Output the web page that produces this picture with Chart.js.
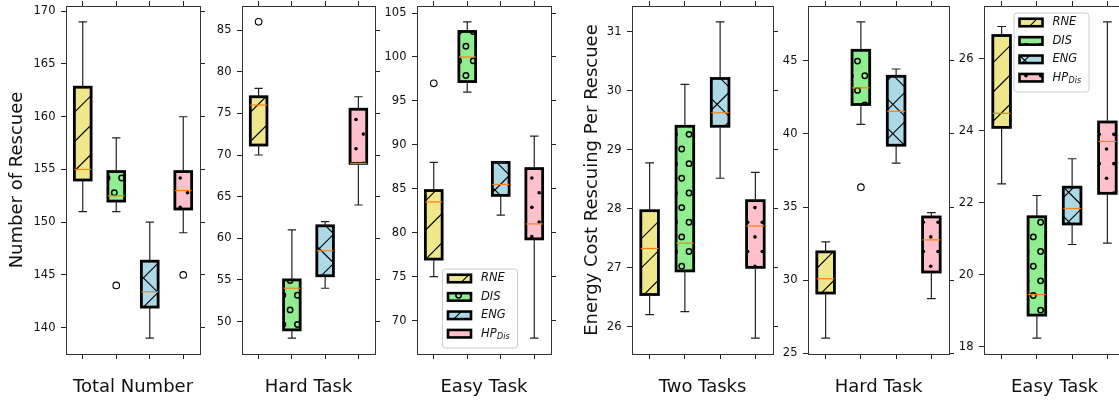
<!DOCTYPE html>
<html>
<head>
<meta charset="utf-8">
<title>Rescue box plots</title>
<script src="https://cdn.jsdelivr.net/npm/chart.js@4.4.0/dist/chart.umd.min.js"></script>
<style>
  html, body { margin: 0; padding: 0; background: #fff; }
  #wrap { position: relative; width: 1119px; height: 404px; overflow: hidden; background: #fff; }
  #wrap canvas { position: absolute; top: 0; }
</style>
</head>
<body>
<div id="wrap">
  <canvas id="c1"></canvas>
  <canvas id="c2"></canvas>
  <canvas id="c3"></canvas>
  <canvas id="c4"></canvas>
  <canvas id="c5"></canvas>
  <canvas id="c6"></canvas>
</div>
<script>
// Methods, in plotting order
const methods = ['RNE', 'DIS', 'ENG', 'HP_Dis'];

// Each box: [lower whisker, Q1, median, Q3, upper whisker]
const totalBoxes = [[151, 154, 155, 162.8, 169], [151, 152, 152.5, 154.8, 158], [139, 141.95, 143.4, 146.3, 150], [149, 151.25, 153, 154.8, 160]];
const totalOutliers = [null, 144, null, 145];
const totalTicks = [140, 145, 150, 155, 160, 165, 170];

const hardBoxes = [[70, 71.2, 76, 77, 78], [48, 49, 54, 55, 61], [54, 55.5, 58.5, 61.5, 62], [64, 69, 69, 75.5, 77]];
const hardOutliers = [86, null, null, null];
const hardTicks = [50, 55, 60, 65, 70, 75, 80, 85];

const easyBoxes = [[75, 77, 83.5, 84.8, 88], [96, 97.2, 100, 102.9, 104], [82, 84.25, 85.5, 88, 88], [68, 79.3, 81, 87.3, 91]];
const easyOutliers = [97, null, null, null];
const easyTicks = [70, 75, 80, 85, 90, 95, 100, 105];

const energyTwoBoxes = [[26.21, 26.55, 27.33, 27.97, 28.78], [26.26, 26.95, 27.42, 29.4, 30.11], [28.52, 29.4, 29.63, 30.21, 31.17], [25.81, 27.01, 27.71, 28.14, 28.62]];
const energyTwoOutliers = [null, null, null, null];
const energyTwoTicks = [26, 27, 28, 29, 30, 31];

const energyHardBoxes = [[26.02, 29.11, 30.09, 31.93, 32.61], [40.66, 42.02, 43.16, 45.73, 47.68], [38.0, 39.23, 41.55, 43.95, 44.45], [28.73, 30.55, 32.75, 34.32, 34.61]];
const energyHardOutliers = [null, 36.36, null, null];
const energyHardTicks = [25, 30, 35, 40, 45];

const energyEasyBoxes = [[22.52, 24.09, 24.48, 26.64, 26.89], [18.24, 18.88, 19.45, 21.61, 22.2], [20.84, 21.41, 21.84, 22.43, 23.22], [20.88, 22.26, 23.7, 24.24, 27.02]];
const energyEasyOutliers = [null, null, null, null];
const energyEasyTicks = [18, 20, 22, 24, 26];

const boxColors = ['#f0e68c', '#90ee90', '#add8e6', '#ffc0cb'];
const hatchKinds = ['/', 'o', 'x', '.'];

const FONT = "'DejaVu Sans', sans-serif";
const AXIS_W = 60;   // room left of each plot for ticks + title
const HS = 14.65;    // hatch grid step
const HP = 2 * HS;   // spacing of hatch lines

// hatch phase for the left and right figure (global px)
const figPhase = [
  { cx: 114.3, cy: 192.7, sum: 11, diff: 12 },
  { cx: 681.7, cy: 149, sum: 1, diff: 26.7 }
];

const panels = [
  { id: 'c1', left: 66, width: 126, boxes: totalBoxes, outliers: totalOutliers, ticks: totalTicks, xTitle: 'Total Number', yTitle: 'Number of Rescuee', yPad: 0.7, fig: 0 },
  { id: 'c2', left: 242, width: 125, boxes: hardBoxes, outliers: hardOutliers, ticks: hardTicks, xTitle: 'Hard Task', fig: 0 },
  { id: 'c3', left: 417, width: 126, boxes: easyBoxes, outliers: easyOutliers, ticks: easyTicks, xTitle: 'Easy Task', fig: 0, legend: { x: 442, y: 268.5 } },
  { id: 'c4', left: 632, width: 133, boxes: energyTwoBoxes, outliers: energyTwoOutliers, ticks: energyTwoTicks, xTitle: 'Two Tasks', yTitle: 'Energy Cost Rescuing Per Rescuee', yPad: 9.7, fig: 1 },
  { id: 'c5', left: 808, width: 133, boxes: energyHardBoxes, outliers: energyHardOutliers, ticks: energyHardTicks, xTitle: 'Hard Task', fig: 1 },
  { id: 'c6', left: 984, width: 133, boxes: energyEasyBoxes, outliers: energyEasyOutliers, ticks: energyEasyTicks, xTitle: 'Easy Task', fig: 1, legend: { x: 1013.5, y: 12.5 } }
];

function lineFamily(ctx, x0, y0, x1, y1, ox, c, sign) {
  ctx.beginPath();
  if (sign > 0) {
    // global x + y = c + k*HP
    const kMin = Math.floor((x0 + y0 + ox - c) / HP) - 1;
    const kMax = Math.ceil((x1 + y1 + ox - c) / HP) + 1;
    for (let k = kMin; k <= kMax; k++) {
      const S = c + k * HP - ox;
      ctx.moveTo(x0 - 3, S - (x0 - 3));
      ctx.lineTo(x1 + 3, S - (x1 + 3));
    }
  } else {
    // global x - y = c + k*HP
    const kMin = Math.floor((x0 + ox - y1 - c) / HP) - 1;
    const kMax = Math.ceil((x1 + ox - y0 - c) / HP) + 1;
    for (let k = kMin; k <= kMax; k++) {
      const D = ox - c - k * HP;
      ctx.moveTo(x0 - 3, x0 - 3 + D);
      ctx.lineTo(x1 + 3, x1 + 3 + D);
    }
  }
  ctx.stroke();
}

function drawHatch(ctx, kind, x0, y0, x1, y1, ox, ph) {
  ctx.save();
  ctx.beginPath();
  ctx.rect(x0, y0, x1 - x0, y1 - y0);
  ctx.clip();
  ctx.strokeStyle = '#000';
  ctx.fillStyle = '#000';
  if (kind === '/' || kind === 'x') {
    ctx.lineWidth = 1.1;
    lineFamily(ctx, x0, y0, x1, y1, ox, ph.sum, 1);
    if (kind === 'x') lineFamily(ctx, x0, y0, x1, y1, ox, ph.diff, -1);
  } else {
    const gx = ph.cx - ox;
    const jMin = Math.floor((y0 - ph.cy) / HS) - 1;
    const jMax = Math.ceil((y1 - ph.cy) / HS) + 1;
    for (let j = jMin; j <= jMax; j++) {
      const cy = ph.cy + j * HS;
      const shift = (((j % 2) + 2) % 2) ? HS / 2 : 0;
      const iMin = Math.floor((x0 - gx - shift) / HS) - 1;
      const iMax = Math.ceil((x1 - gx - shift) / HS) + 1;
      for (let i = iMin; i <= iMax; i++) {
        const cx = gx + shift + i * HS;
        ctx.beginPath();
        if (kind === 'o') {
          ctx.lineWidth = 1.5;
          ctx.arc(cx, cy, 2.7, 0, Math.PI * 2);
          ctx.stroke();
        } else {
          ctx.arc(cx, cy, 1.8, 0, Math.PI * 2);
          ctx.fill();
        }
      }
    }
  }
  ctx.restore();
}

// fix an axis to a given size and drop the label overflow padding
function fixSize(dim, size) {
  return s => {
    s[dim] = size;
    s.paddingTop = 0; s.paddingBottom = 0; s.paddingLeft = 0; s.paddingRight = 0;
  };
}

function makePanel(p) {
  const canvas = document.getElementById(p.id);
  const cw = AXIS_W + p.width + 5 + 8;
  const ox = p.left - AXIS_W;
  canvas.width = cw;
  canvas.height = 404;
  canvas.style.left = ox + 'px';
  canvas.style.width = cw + 'px';
  canvas.style.height = '404px';

  const vals = p.boxes.flat().concat(p.outliers.filter(v => v !== null));
  const lo = Math.min(...vals), hi = Math.max(...vals);
  const yMin = lo - (hi - lo) * 0.05, yMax = hi + (hi - lo) * 0.05;
  const ph = figPhase[p.fig];

  const tickGrid = { display: true, drawOnChartArea: false, drawTicks: true, tickLength: 5, color: '#222', lineWidth: 1 };
  const frame = { display: true, color: '#333', width: 1 };
  const setTicks = s => { s.ticks = p.ticks.map(v => ({ value: v })); };

  const boxParts = {
    id: 'boxParts',
    afterDatasetsDraw(chart) {
      const ctx = chart.ctx;
      const ys = chart.scales.y;
      chart.getDatasetMeta(0).data.forEach((bar, i) => {
        const { x, y, base, width } = bar.getProps(['x', 'y', 'base', 'width'], true);
        const l = x - width / 2, r = x + width / 2;
        const t = Math.min(y, base), b = Math.max(y, base);
        const st = p.boxes[i];
        drawHatch(ctx, hatchKinds[i], l, t, r, b, ox, ph);
        ctx.save();
        ctx.strokeStyle = '#000';
        ctx.lineWidth = 2.8;
        ctx.strokeRect(l, t, width, b - t);
        // whiskers and caps
        const yLo = ys.getPixelForValue(st[0]);
        const yHi = ys.getPixelForValue(st[4]);
        ctx.lineWidth = 1.2;
        ctx.strokeStyle = '#222';
        ctx.beginPath();
        ctx.moveTo(x, b); ctx.lineTo(x, yLo);
        ctx.moveTo(x, t); ctx.lineTo(x, yHi);
        ctx.moveTo(x - width / 4, yLo); ctx.lineTo(x + width / 4, yLo);
        ctx.moveTo(x - width / 4, yHi); ctx.lineTo(x + width / 4, yHi);
        ctx.stroke();
        // median
        const yMed = ys.getPixelForValue(st[2]);
        ctx.strokeStyle = '#ff7f0e';
        ctx.lineWidth = 1.2;
        ctx.beginPath();
        ctx.moveTo(l, yMed); ctx.lineTo(r, yMed);
        ctx.stroke();
        ctx.restore();
      });
    },
    afterDraw(chart) {
      if (!p.legend) return;
      const ctx = chart.ctx;
      const lx = p.legend.x - ox, ly = p.legend.y;
      ctx.save();
      ctx.beginPath();
      ctx.roundRect(lx + 0.5, ly + 0.5, 75, 79, 3);
      ctx.fillStyle = 'rgba(255,255,255,0.8)';
      ctx.fill();
      ctx.strokeStyle = '#cccccc';
      ctx.lineWidth = 1;
      ctx.stroke();
      methods.forEach((m, i) => {
        const cy = ly + 10 + i * 18.4;
        const px = lx + 6, pw = 23, phh = 7.5;
        ctx.fillStyle = boxColors[i];
        ctx.fillRect(px, cy - phh / 2, pw, phh);
        drawHatch(ctx, hatchKinds[i], px, cy - phh / 2, px + pw, cy + phh / 2, ox, ph);
        ctx.strokeStyle = '#000';
        ctx.lineWidth = 2.6;
        ctx.strokeRect(px, cy - phh / 2, pw, phh);
        ctx.fillStyle = '#111';
        ctx.textBaseline = 'middle';
        ctx.textAlign = 'left';
        const parts = m.split('_');
        ctx.font = 'italic 11.5px ' + FONT;
        ctx.fillText(parts[0], lx + 39, cy);
        if (parts[1]) {
          const w = ctx.measureText(parts[0]).width;
          ctx.font = 'italic 8px ' + FONT;
          ctx.fillText(parts[1], lx + 39 + w + 0.5, cy + 3);
        }
      });
      ctx.restore();
    }
  };

  new Chart(canvas, {
    type: 'bar',
    data: {
      labels: methods,
      datasets: [
        {
          type: 'bar',
          data: p.boxes.map(b => [b[1], b[3]]),
          backgroundColor: boxColors,
          borderWidth: 0,
          barPercentage: 0.5,
          categoryPercentage: 1,
          inflateAmount: 0,
          xAxisID: 'x',
          yAxisID: 'y'
        },
        {
          type: 'line',
          data: p.outliers,
          showLine: false,
          pointRadius: 3.3,
          pointBorderWidth: 1.1,
          pointBorderColor: '#000',
          pointBackgroundColor: 'rgba(0,0,0,0)',
          xAxisID: 'x',
          yAxisID: 'y'
        }
      ]
    },
    options: {
      responsive: false,
      animation: false,
      events: [],
      devicePixelRatio: 1,
      layout: { padding: 0, autoPadding: false },
      plugins: { legend: { display: false }, tooltip: { enabled: false } },
      scales: {
        x: {
          type: 'category', position: 'bottom', offset: true,
          grid: Object.assign({}, tickGrid, { offset: false }),
          border: frame,
          ticks: { display: false },
          title: { display: true, text: p.xTitle, color: '#111', font: { family: FONT, size: 18 }, padding: { top: 0, bottom: 6.2 } },
          afterFit: fixSize('height', 50)
        },
        x2: {
          type: 'category', position: 'top', offset: true,
          grid: Object.assign({}, tickGrid, { offset: false }),
          border: frame,
          ticks: { display: false },
          afterFit: fixSize('height', 6)
        },
        y: {
          type: 'linear', position: 'left', min: yMin, max: yMax, bounds: 'data',
          grid: tickGrid,
          border: frame,
          ticks: { font: { family: FONT, size: 11.5 }, color: '#111', padding: 5.5, autoSkip: false },
          afterBuildTicks: setTicks,
          title: { display: !!p.yTitle, text: p.yTitle || '', color: '#111', font: { family: FONT, size: 18 }, padding: { top: p.yPad || 0, bottom: 0 } },
          afterFit: fixSize('width', AXIS_W)
        },
        y2: {
          type: 'linear', position: 'right', min: yMin, max: yMax, bounds: 'data',
          grid: tickGrid,
          border: frame,
          ticks: { display: false },
          afterBuildTicks: setTicks,
          afterFit: fixSize('width', 5)
        }
      }
    },
    plugins: [boxParts]
  });
}

panels.forEach(makePanel);
</script>
</body>
</html>
